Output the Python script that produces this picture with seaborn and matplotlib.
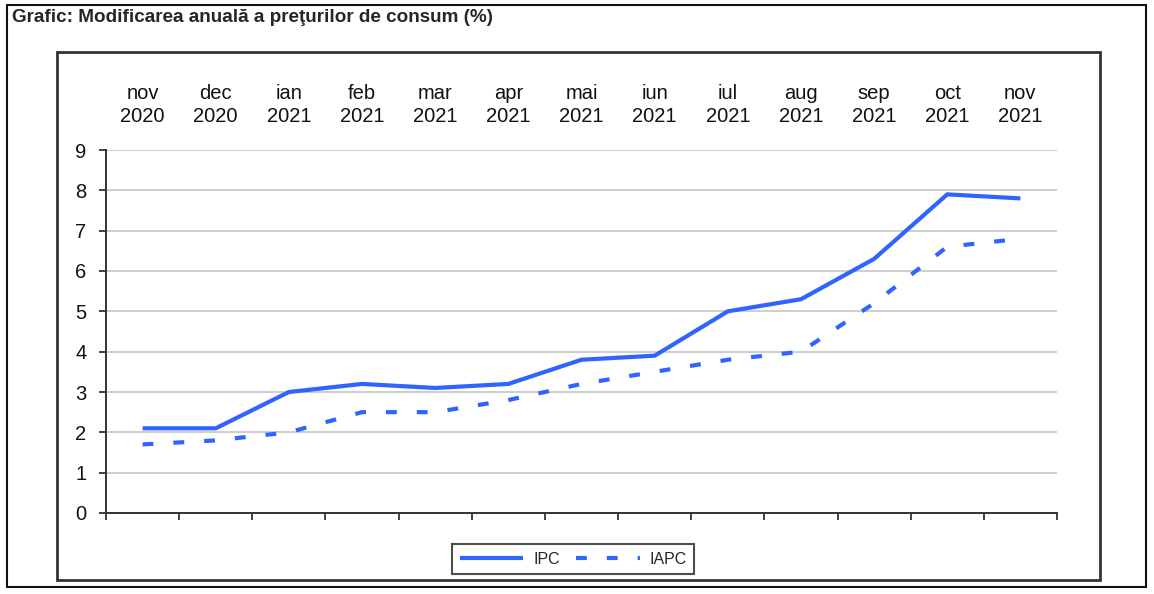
import numpy as np
import pandas as pd
import matplotlib
matplotlib.use('Agg')
import matplotlib.pyplot as plt
from matplotlib.patches import Rectangle
import seaborn as sns

# data
months = ['nov\n2020', 'dec\n2020', 'ian\n2021', 'feb\n2021', 'mar\n2021', 'apr\n2021',
          'mai\n2021', 'iun\n2021', 'iul\n2021', 'aug\n2021', 'sep\n2021', 'oct\n2021', 'nov\n2021']
ipc = [2.1, 2.1, 3.0, 3.2, 3.1, 3.2, 3.8, 3.9, 5.0, 5.3, 6.3, 7.9, 7.8]
iapc = [1.7, 1.8, 2.0, 2.5, 2.5, 2.8, 3.2, 3.5, 3.8, 4.0, 5.2, 6.6, 6.8]
yticks = list(range(0, 10))
title = 'Grafic: Modificarea anuală a preţurilor de consum (%)'

BLUE = '#2F64FF'

sns.set_style('white')
plt.rcParams['font.family'] = ['Liberation Sans', 'DejaVu Sans']

df = pd.DataFrame({'pos': np.arange(len(months)), 'IPC': ipc, 'IAPC': iapc})

fig = plt.figure(figsize=(11.54, 5.94), dpi=100)
ax = fig.add_axes([106 / 1154, 1 - 513 / 594, 951 / 1154, 363 / 594])

sns.lineplot(data=df, x='pos', y='IPC', ax=ax, color=BLUE, lw=3, label='IPC', legend=False)
sns.lineplot(data=df, x='pos', y='IAPC', ax=ax, color=BLUE, lw=3, label='IAPC', legend=False,
             linestyle=(0, (2.6, 4.8)))
for ln in ax.get_lines():
    ln.set_solid_capstyle('butt')
    ln.set_dash_capstyle('butt')

ax.set_xlim(-0.5, len(months) - 0.5)
ax.set_ylim(0, 9)
ax.set_yticks(yticks)
ax.yaxis.grid(True, color='#c6c6c6', lw=1.2)
ax.set_axisbelow(True)

# month labels on top, ticks on category boundaries at the bottom
ax.set_xticks(np.arange(len(months)))
ax.set_xticklabels(months, linespacing=1.3)
ax.set_xticks(np.arange(-0.5, len(months)), minor=True)
ax.tick_params(axis='x', which='major', bottom=False, top=False, labelbottom=False,
               labeltop=True, length=0, pad=17, labelsize=14.5, colors='#111111')
ax.tick_params(axis='x', which='minor', bottom=True, top=False, length=5, width=1.3,
               color='#333333', direction='out')
ax.tick_params(axis='y', left=True, length=5, width=1.3, color='#333333', direction='out',
               pad=9, labelsize=14.5, labelcolor='#111111')
ax.set_xlabel('')
ax.set_ylabel('')

for s in ['top', 'right']:
    ax.spines[s].set_visible(False)
for s in ['left', 'bottom']:
    ax.spines[s].set_color('#333333')
    ax.spines[s].set_linewidth(1.4)

# legend
handles = ax.get_lines()[:2]
leg = fig.legend(handles, ['IPC', 'IAPC'], loc='center', bbox_to_anchor=(573 / 1154, 1 - 559 / 594),
                 ncol=2, fontsize=11.5, frameon=True, fancybox=False, handlelength=4.0,
                 handletextpad=0.6, columnspacing=1.0, borderpad=0.5)
leg.get_frame().set_edgecolor('#222222')
leg.get_frame().set_linewidth(1.5)

# frames
fig.patches.append(Rectangle((7 / 1154, 1 - 587 / 594), 1139 / 1154, 582 / 594,
                             transform=fig.transFigure, fill=False, ec='#111111', lw=1.5))
fig.patches.append(Rectangle((57 / 1154, 1 - 580 / 594), 1043 / 1154, 528 / 594,
                             transform=fig.transFigure, fill=False, ec='#333333', lw=2))

fig.text(12 / 1154, 1 - 18 / 594, title, fontsize=13.6, fontweight='bold', va='center', ha='left')

fig.savefig('out.png', dpi=100)
